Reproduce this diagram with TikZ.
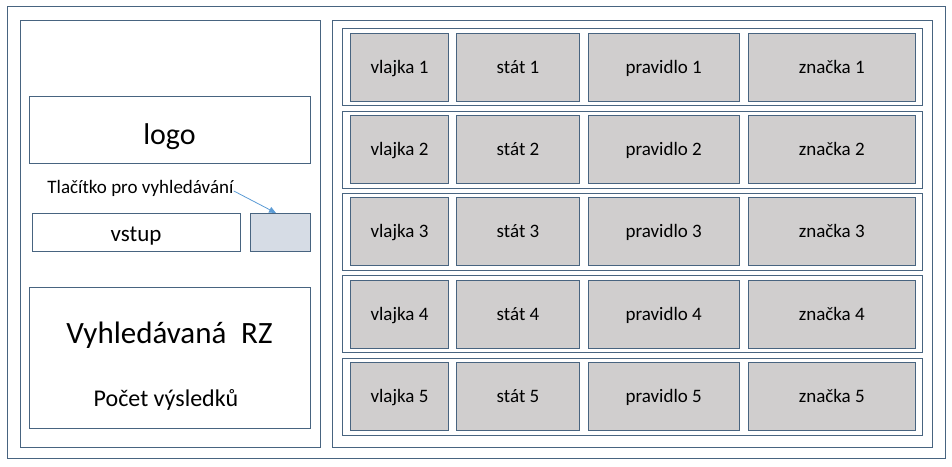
\documentclass[tikz,border=0pt]{standalone}
\usepackage{fontspec}
\setmainfont{Carlito}
\usetikzlibrary{arrows.meta}
\definecolor{bordc}{RGB}{72,100,128}
\definecolor{cellc}{RGB}{208,206,206}
\definecolor{btnc}{RGB}{214,220,229}
\definecolor{arrc}{RGB}{91,155,213}
\tikzset{
  frame/.style={draw=bordc, line width=0.9pt, inner sep=0pt, outer sep=0pt},
  cell/.style={frame, fill=cellc, minimum width=#1, minimum height=68pt,
    font=\fontsize{19}{21}\selectfont, text height=12.5pt, text depth=0pt},
  rowbox/.style={frame, minimum width=580pt, minimum height=77pt},
  plain/.style={inner sep=0pt, anchor=base},
}
\begin{document}
\begin{tikzpicture}[x=1pt,y=-1pt]
\useasboundingbox (0,0) rectangle (952,466);
\node[frame, minimum width=938pt, minimum height=452pt] (outer) at (476,232) {};
\node[frame, minimum width=300pt, minimum height=427pt] (left) at (170,233.5) {};
\node[frame, minimum width=600pt, minimum height=427pt] (right) at (632,233.5) {};
\foreach \i/\y in {1/67,2/149.5,3/231.7,4/314,5/396.5}{
  \node[rowbox] (row\i) at (632,\y) {};
  \node[cell=98pt] (vl\i) at (399.5,\y) {vlajka \i};
  \node[cell=123pt] (st\i) at (518,\y) {stát \i};
  \node[cell=151.5pt] (pr\i) at (663.75,\y) {pravidlo \i};
  \node[cell=167.5pt] (zn\i) at (831.75,\y) {značka \i};
}
\node[frame, minimum width=281pt, minimum height=67pt, font=\fontsize{30}{32}\selectfont,
  text height=29pt, text depth=0pt] (logo) at (169.5,129.5) {logo};
\node[frame, minimum width=208pt, minimum height=38pt, font=\fontsize{23}{25}\selectfont,
  text height=18pt, text depth=0pt] (vstup) at (136,232) {vstup};
\node[frame, fill=btnc, minimum width=60pt, minimum height=38pt] (btn) at (280,232) {};
\node[plain, font=\fontsize{19}{21}\selectfont] (tlab) at (140.5,193) {Tlačítko pro vyhledávání};
\draw[arrc, line width=0.8pt, -{Triangle[length=7pt,width=6pt]}] ([yshift=-3pt]tlab.east) -- ([xshift=-4pt]btn.north);
\node[frame, minimum width=281pt, minimum height=141pt] (res) at (169.5,357.5) {};
\node[plain, font=\fontsize{31}{33}\selectfont] (rz) at (169.5,343) {Vyhledávaná\hspace{0.25em} RZ};
\node[plain, font=\fontsize{24}{26}\selectfont] (pocet) at (166,406.5) {Počet výsledků};
\end{tikzpicture}
\end{document}
